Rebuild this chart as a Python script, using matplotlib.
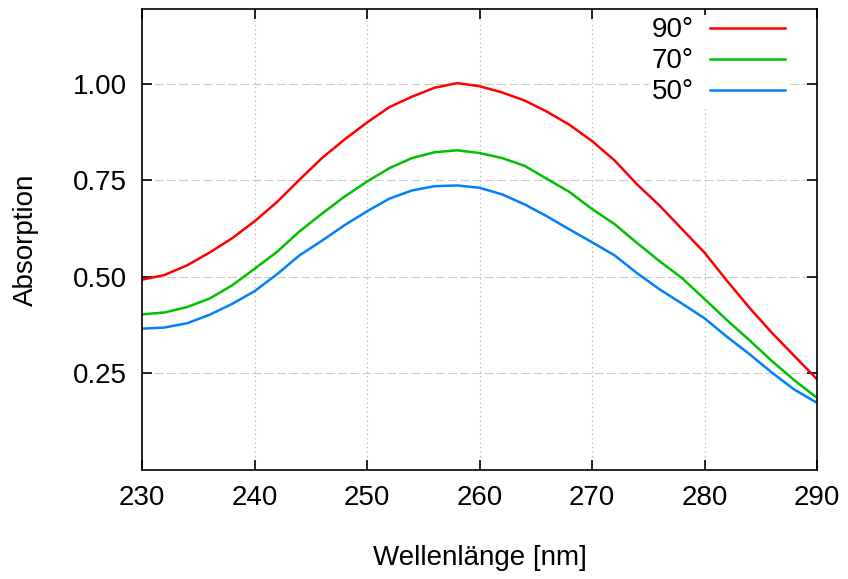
import numpy as np
import matplotlib.pyplot as plt

plt.rcParams['font.family'] = ['Liberation Sans', 'DejaVu Sans']

# wavelength grid and absorption
wl = [230, 232, 234, 236, 238, 240, 242, 244, 246, 248, 250, 252, 254, 256, 258,
      260, 262, 264, 266, 268, 270, 272, 274, 276, 278, 280, 282, 284, 286, 288, 290]

abs_90 = [0.493, 0.505, 0.530, 0.563, 0.600, 0.644, 0.694, 0.752, 0.808, 0.856,
          0.900, 0.940, 0.967, 0.990, 1.002, 0.994, 0.978, 0.957, 0.928, 0.894,
          0.852, 0.802, 0.740, 0.685, 0.624, 0.563, 0.490, 0.420, 0.355, 0.295, 0.235]
abs_70 = [0.403, 0.408, 0.422, 0.444, 0.478, 0.521, 0.565, 0.618, 0.664, 0.708,
          0.747, 0.782, 0.808, 0.823, 0.828, 0.821, 0.808, 0.788, 0.754, 0.720,
          0.676, 0.637, 0.588, 0.541, 0.497, 0.443, 0.388, 0.336, 0.282, 0.232, 0.187]
abs_50 = [0.366, 0.369, 0.380, 0.402, 0.430, 0.463, 0.507, 0.556, 0.594, 0.634,
          0.670, 0.703, 0.724, 0.735, 0.737, 0.731, 0.714, 0.688, 0.657, 0.623,
          0.590, 0.556, 0.510, 0.468, 0.431, 0.393, 0.345, 0.300, 0.252, 0.208, 0.174]

labels = ['90°', '70°', '50°']
colors = ['#ff0000', '#00c000', '#0080ff']
xticks = [230, 240, 250, 260, 270, 280, 290]
yticks = [0.25, 0.50, 0.75, 1.00]

fig = plt.figure(figsize=(8.48, 5.79), dpi=100)
ax = fig.add_axes([142 / 848, 109 / 579, 675 / 848, 461 / 579])

for series, lab, col in zip([abs_90, abs_70, abs_50], labels, colors):
    ax.plot(wl, series, color=col, lw=1.8, label=lab)

ax.set_xlim(230, 290)
ax.set_ylim(0, 1.194)
ax.set_xticks(xticks)
ax.set_yticks(yticks)
ax.set_yticklabels([f'{v:.2f}' for v in yticks])

# gnuplot-like grid: dashed horizontal, dotted vertical
for y in yticks:
    ax.axhline(y, color='#cccccc', lw=0.8, dashes=(8, 3), zorder=0)
for x in xticks[1:-1]:
    ax.axvline(x, color='#a8a8a8', lw=0.8, dashes=(1, 3), zorder=0)

ax.tick_params(direction='in', length=7, width=1.2, top=True, right=True,
               labelsize=20, pad=11)
for sp in ax.spines.values():
    sp.set_linewidth(1.2)

ax.set_xlabel('Wellenlänge [nm]', fontsize=20, labelpad=24)
ax.set_ylabel('Absorption', fontsize=20, labelpad=24)

leg = ax.legend(loc='upper right', markerfirst=False, fontsize=20,
                handlelength=2.7, handletextpad=0.6, labelspacing=0.18,
                borderpad=0.1, borderaxespad=0.2, frameon=True, fancybox=False,
                framealpha=1, edgecolor='none', bbox_to_anchor=(0.965, 1.0))
leg.set_zorder(5)

fig.savefig('out.png', dpi=100)
